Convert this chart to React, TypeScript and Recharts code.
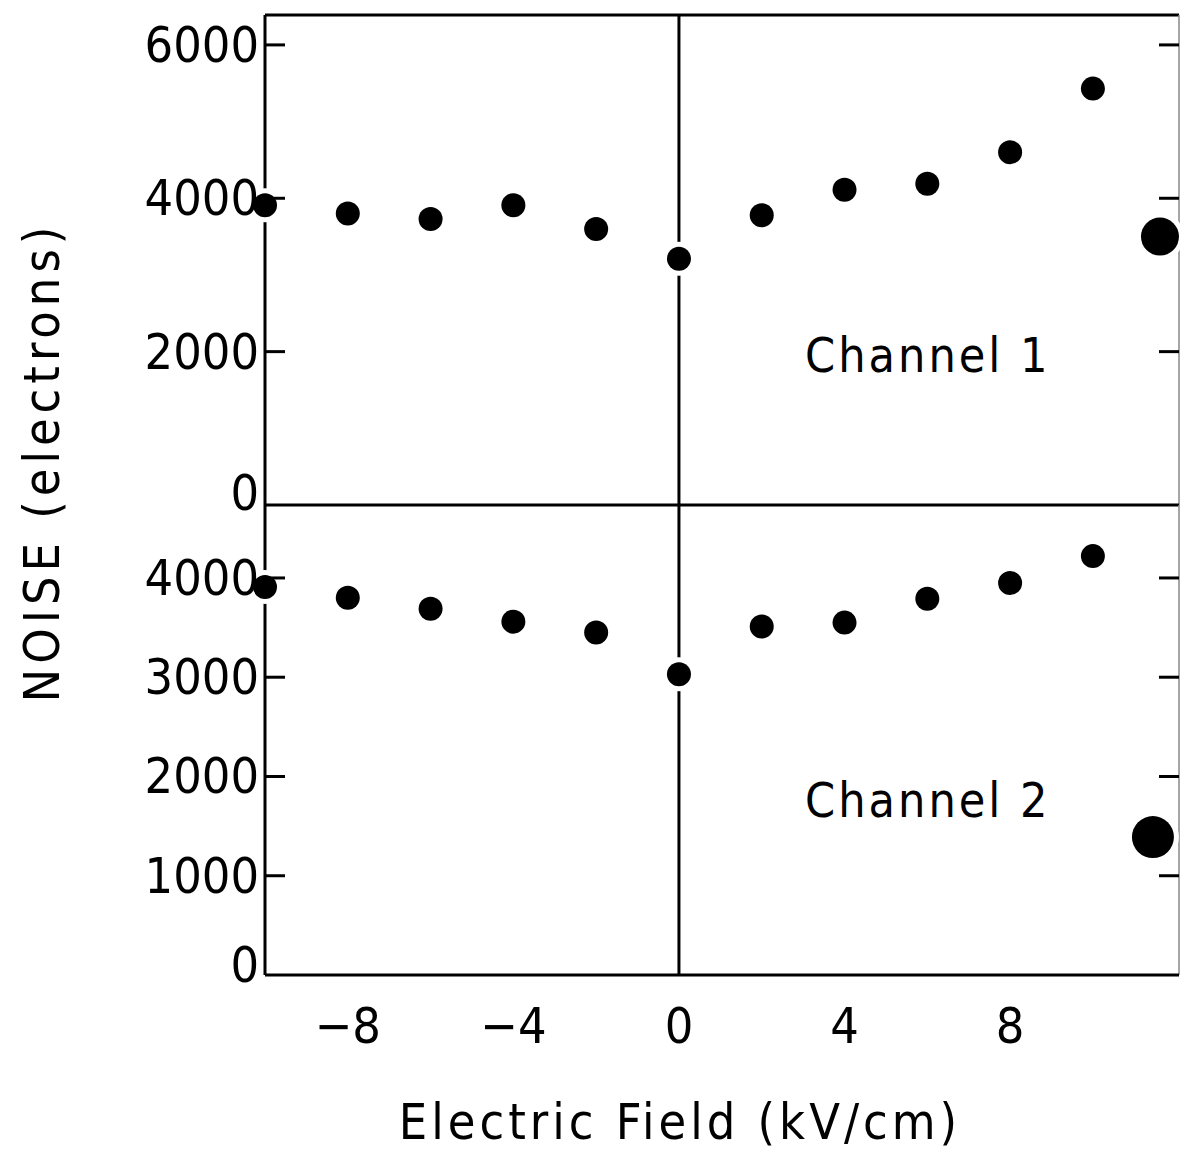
import React from "react";
import { ScatterChart, Scatter, XAxis, YAxis, ReferenceLine } from "recharts";

// electric field (kV/cm) of the measured points
const fieldValues = [-10, -8, -6, -4, -2, 0, 2, 4, 6, 8, 10];
const channel1Noise = [3910, 3800, 3730, 3910, 3600, 3210, 3780, 4110, 4190, 4600, 5430];
const channel2Noise = [3910, 3800, 3690, 3560, 3450, 3030, 3510, 3550, 3790, 3950, 4220];

// the big dots at the right edge
const bigField = [11.62, 11.45];
const bigNoise = [3500, 1390];

const xTicks = [-8, -4, 0, 4, 8];
const topTicks = [0, 2000, 4000, 6000];
const bottomTicks = [0, 1000, 2000, 3000, 4000];

const X_DOMAIN: [number, number] = [-10, 12.08];
const TOP_MAX = 6390;
const BOTTOM_MAX = 4735;

const PLOT_LEFT = 265;
const PLOT_RIGHT = 1179;
const FONT = '"DejaVu Sans Condensed", "Liberation Sans Narrow", "DejaVu Sans", sans-serif';

const ch1 = fieldValues.map((f, i) => ({ field: f, noise: channel1Noise[i] }));
const ch2 = fieldValues.map((f, i) => ({ field: f, noise: channel2Noise[i] }));
const big1 = [{ field: bigField[0], noise: bigNoise[0] }];
const big2 = [{ field: bigField[1], noise: bigNoise[1] }];

// white halo breaks the frame / zero line around each dot, like the original
const dotShape = (r: number) => (props: any) => (
  <g>
    <circle cx={props.cx} cy={props.cy} r={r + 5} fill="#fff" />
    <circle cx={props.cx} cy={props.cy} r={r} fill="#000" />
  </g>
);

const NoiseTick = (props: any) => {
  const { y, payload } = props;
  const v = payload.value;
  return (
    <g>
      {v !== 0 && (
        <>
          <line x1={PLOT_LEFT} x2={PLOT_LEFT + 20} y1={y} y2={y} stroke="#000" strokeWidth={3} />
          <line x1={PLOT_RIGHT - 20} x2={PLOT_RIGHT} y1={y} y2={y} stroke="#000" strokeWidth={3} />
        </>
      )}
      <text
        x={PLOT_LEFT - 6}
        y={y}
        dy={v === 0 ? 5 : 17}
        textAnchor="end"
        fontSize={50}
        fontFamily={FONT}
        fill="#000"
      >
        {v}
      </text>
    </g>
  );
};

const FieldTick = (props: any) => {
  const { x, y, payload } = props;
  return (
    <text x={x} y={y + 60} textAnchor="middle" fontSize={50} fontFamily={FONT} fill="#000">
      {payload.value < 0 ? "\u2212" + Math.abs(payload.value) : payload.value}
    </text>
  );
};

export default function App() {
  return (
    <div
      style={{
        position: "absolute",
        top: 0,
        left: 0,
        width: 1180,
        height: 1153,
        background: "#fff",
        fontFamily: FONT,
        overflow: "hidden",
      }}
    >
      <div style={{ position: "absolute", top: 0, left: 0 }}>
        <ScatterChart width={1180} height={530} margin={{ top: 15, right: 1, left: 0, bottom: 25 }}>
          <XAxis type="number" dataKey="field" domain={X_DOMAIN} hide />
          <YAxis
            type="number"
            dataKey="noise"
            domain={[0, TOP_MAX]}
            ticks={topTicks}
            width={PLOT_LEFT}
            tickLine={false}
            axisLine={{ stroke: "#000", strokeWidth: 3 }}
            tick={<NoiseTick />}
            interval={0}
          />
          <ReferenceLine y={TOP_MAX} stroke="#000" strokeWidth={3} ifOverflow="visible" />
          <ReferenceLine x={X_DOMAIN[1]} stroke="#888" strokeWidth={1.5} ifOverflow="visible" />
          <ReferenceLine x={0} stroke="#000" strokeWidth={3} />
          <Scatter data={ch1} shape={dotShape(12)} isAnimationActive={false} />
          <Scatter data={big1} shape={dotShape(19)} isAnimationActive={false} />
        </ScatterChart>
      </div>
      <div style={{ position: "absolute", top: 490, left: 0 }}>
        <ScatterChart width={1180} height={663} margin={{ top: 15, right: 1, left: 0, bottom: 98 }}>
          <XAxis
            type="number"
            dataKey="field"
            domain={X_DOMAIN}
            ticks={xTicks}
            height={80}
            tickLine={false}
            axisLine={{ stroke: "#000", strokeWidth: 3 }}
            tick={<FieldTick />}
            interval={0}
          />
          <YAxis
            type="number"
            dataKey="noise"
            domain={[0, BOTTOM_MAX]}
            ticks={bottomTicks.filter((t) => t !== 0)}
            width={PLOT_LEFT}
            tickLine={false}
            axisLine={{ stroke: "#000", strokeWidth: 3 }}
            tick={<NoiseTick />}
            interval={0}
          />
          <ReferenceLine y={BOTTOM_MAX} stroke="#000" strokeWidth={3} ifOverflow="visible" />
          <ReferenceLine x={X_DOMAIN[1]} stroke="#888" strokeWidth={1.5} ifOverflow="visible" />
          <ReferenceLine x={0} stroke="#000" strokeWidth={3} />
          <Scatter data={ch2} shape={dotShape(12)} isAnimationActive={false} />
          <Scatter data={big2} shape={dotShape(21)} isAnimationActive={false} />
        </ScatterChart>
      </div>
      {/* bottom panel zero label sits slightly above the axis in the original */}
      <div
        style={{
          position: "absolute",
          right: 1180 - (PLOT_LEFT - 6),
          top: 940,
          fontSize: 50,
          lineHeight: "50px",
        }}
      >
        {bottomTicks[0]}
      </div>
      <div
        style={{ position: "absolute", left: 805, top: 325, fontSize: 48, lineHeight: "60px", letterSpacing: 3 }}
      >
        Channel 1
      </div>
      <div
        style={{ position: "absolute", left: 805, top: 770, fontSize: 48, lineHeight: "60px", letterSpacing: 3 }}
      >
        Channel 2
      </div>
      <div
        style={{
          position: "absolute",
          left: 680,
          top: 1122,
          fontSize: 50,
          lineHeight: "50px",
          whiteSpace: "nowrap",
          letterSpacing: 4,
          transform: "translate(-50%, -50%)",
        }}
      >
        Electric Field (kV/cm)
      </div>
      <div
        style={{
          position: "absolute",
          left: 42,
          top: 462,
          fontSize: 50,
          lineHeight: "50px",
          whiteSpace: "nowrap",
          letterSpacing: 5,
          transform: "translate(-50%, -50%) rotate(-90deg)",
        }}
      >
        NOISE (electrons)
      </div>
    </div>
  );
}
